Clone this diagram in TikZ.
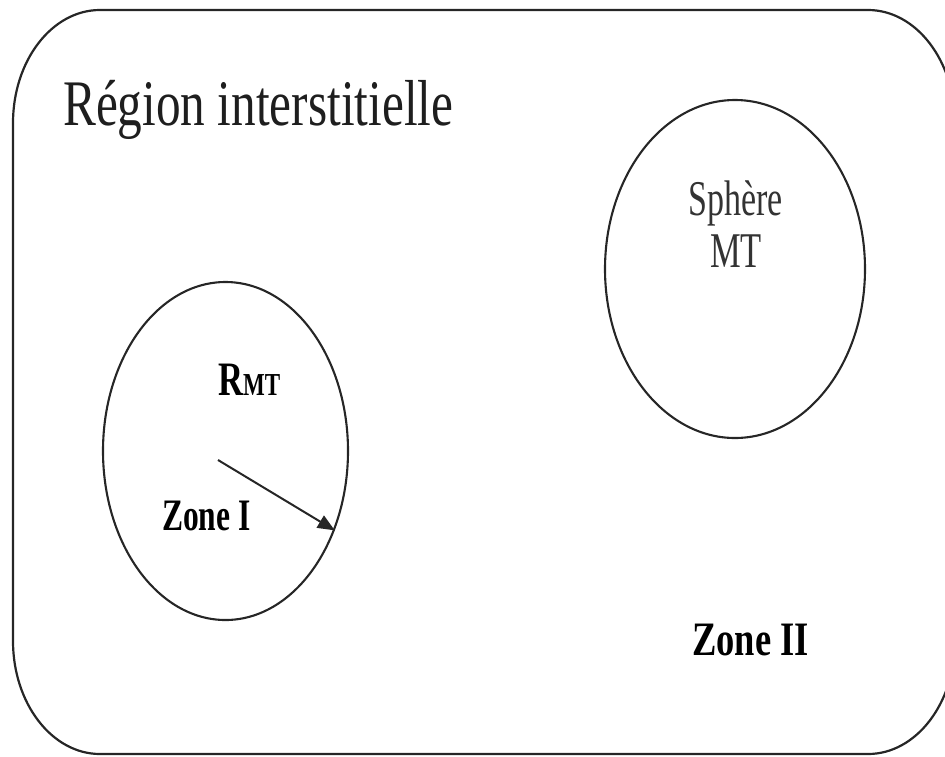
\documentclass[tikz,border=0pt]{standalone}
\usepackage{fontspec}
\setmainfont{Liberation Serif}
\usetikzlibrary{shapes.geometric,arrows.meta}
\definecolor{linegray}{HTML}{262626}
\definecolor{textgray}{HTML}{1E1E1E}
\definecolor{lightgray}{HTML}{333333}
\tikzset{
  zone/.style={draw=linegray, line width=2.1pt, ellipse, inner sep=0pt},
  lbl/.style={inner sep=0pt, anchor=base west},
  radius arrow/.style={draw=linegray, line width=2pt, -{Triangle[length=17pt,width=14pt]}}
}
\begin{document}
\begin{tikzpicture}[x=1pt,y=-1pt]
\useasboundingbox (0,0) rectangle (945,756);
\clip (0,0) rectangle (945,756);
% outer rounded frame (interstitial region)
\draw[linegray, line width=2.2pt]
  (13,123) -- (13,641)
  arc[start angle=180,end angle=90,x radius=87,y radius=113]
  -- (868,754)
  arc[start angle=90,end angle=0,x radius=87,y radius=113]
  -- (955,123)
  arc[start angle=0,end angle=-90,x radius=87,y radius=113]
  -- (100,10)
  arc[start angle=-90,end angle=-180,x radius=87,y radius=113]
  -- cycle;
% spheres
\node[zone, minimum width=245pt, minimum height=338pt] (z1) at (225.5,451) {};
\node[zone, minimum width=260pt, minimum height=338pt] (z2) at (735,269) {};
% texts
\node[lbl, text=textgray] (reg) at (63,125)
  {\scalebox{0.758}[1]{\fontsize{65}{70}\selectfont Région interstitielle}};
\node[lbl, text=lightgray] (sph) at (688,215)
  {\scalebox{0.68}[1]{\fontsize{50}{55}\selectfont Sphère}};
\node[lbl, text=lightgray] (mt) at (710,267)
  {\scalebox{0.69}[1]{\fontsize{50}{55}\selectfont MT}};
\node[lbl] (rmt) at (218,395)
  {\scalebox{0.72}[1]{\bfseries\fontsize{48}{52}\selectfont R\fontsize{32}{36}\selectfont MT}};
\node[lbl] (zi) at (162,530)
  {\scalebox{0.70}[1]{\bfseries\fontsize{45}{50}\selectfont Zone I}};
\node[lbl] (zii) at (692,655)
  {\scalebox{0.76}[1]{\bfseries\fontsize{48}{52}\selectfont Zone II}};
% radius arrow
\coordinate (rs) at (218,460);
\draw[radius arrow] (rs) -- (z1.-36);
\end{tikzpicture}
\end{document}
